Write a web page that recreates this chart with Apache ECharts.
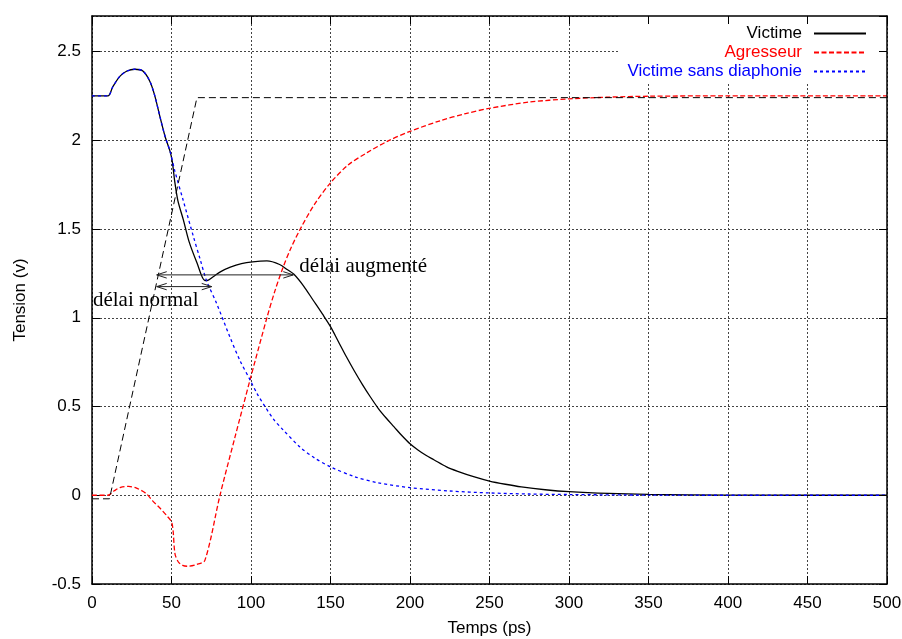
<!DOCTYPE html>
<html>
<head>
<meta charset="utf-8">
<script src="https://cdn.jsdelivr.net/npm/echarts@6/dist/echarts.min.js"></script>
<style>html,body{margin:0;padding:0;background:#fff;}#chart{width:902px;height:639px;}</style>
</head>
<body>
<div id="chart"></div>
<script>
// ---- Data (time in ps, voltage in V) ----
const victime = [[0,2.25],[10,2.25],[13,2.30],[17.5,2.36],[22,2.39],[27,2.40],[32,2.39],[36.5,2.33],[39.5,2.25],[42.8,2.13],[46,2.02],[49,1.94],[50.5,1.88],[52,1.77],[54,1.66],[57.5,1.55],[61,1.43],[66,1.31],[71,1.21],[72.5,1.21],[76,1.23],[81,1.26],[87,1.285],[94,1.305],[101,1.315],[110,1.32],[118,1.30],[123,1.27],[127,1.245],[133,1.18],[139,1.10],[145,1.02],[150,0.95],[155,0.865],[160,0.78],[165,0.70],[170,0.625],[175,0.555],[180,0.49],[185,0.435],[190,0.385],[195,0.335],[200,0.29],[205,0.255],[210,0.225],[215,0.20],[223,0.16],[230,0.135],[240,0.105],[250,0.08],[260,0.062],[270,0.047],[285,0.031],[300,0.02],[325,0.01],[350,0.005],[400,0.001],[450,0],[500,0]];
const agresseur = [[0,0],[10,0],[14,0.025],[18,0.045],[23,0.05],[28,0.04],[34,0.01],[38,-0.03],[43,-0.075],[47,-0.115],[50,-0.15],[51,-0.2],[52.2,-0.33],[54.3,-0.376],[57,-0.395],[60,-0.40],[65.8,-0.39],[71,-0.367],[80.5,0],[90,0.33],[99.4,0.65],[110,1.0],[115,1.15],[120,1.28],[125,1.39],[131,1.50],[140,1.64],[150,1.76],[161,1.86],[173,1.93],[186,1.995],[200,2.05],[219,2.11],[235,2.15],[250,2.18],[275,2.215],[300,2.233],[325,2.243],[350,2.248],[400,2.25],[500,2.25]];
const victimeSansDiaphonie = [[0,2.25],[10,2.25],[13,2.30],[17.5,2.36],[22,2.39],[27,2.40],[32,2.39],[36.5,2.33],[39.5,2.25],[42.8,2.13],[46,2.02],[49,1.94],[52,1.83],[57.4,1.66],[63.7,1.46],[68,1.33],[72,1.21],[78.4,1.08],[86.8,0.89],[93,0.76],[99.4,0.65],[104,0.57],[108.8,0.50],[114,0.43],[120,0.37],[131,0.27],[140,0.21],[150,0.16],[165,0.105],[180,0.07],[200,0.043],[225,0.024],[250,0.013],[275,0.007],[300,0.004],[350,0.001],[400,0],[500,0]];
const entree = [[0,-0.02],[11,-0.02],[66,2.24],[500,2.24]];

// annotation arrows (data coordinates of both tips) and labels
const arrowNormal = [40.7,1.1755,75.3,1.1755];
const arrowAugmente = [40.7,1.2415,126.6,1.2415];
const labelNormal = {text:'délai normal', at:[0.6,1.1]};
const labelAugmente = {text:'délai augmenté', at:[130.4,1.29]};

const seriesNames = ['Victime','Agresseur','Victime sans diaphonie'];
const xTicks = {min:0, max:500, interval:50};
const yTicks = {min:-0.5, max:2.7, interval:0.5};

const SANS = 'Liberation Sans, Arial, Helvetica, sans-serif';
const SERIF = 'Liberation Serif, Times New Roman, serif';

const chart = echarts.init(document.getElementById('chart'), null, {renderer:'canvas'});

const frameLine = {show:true, onZero:false, lineStyle:{color:'#000', width:1.5}};
const gridSplit = {show:true, lineStyle:{color:'#444', width:1, type:[2,2]}};
const tickStyle = {show:true, inside:true, length:8, lineStyle:{color:'#000', width:1}};

function renderArrow(params, api) {
  const p1 = api.coord([api.value(0), api.value(1)]);
  const p2 = api.coord([api.value(2), api.value(3)]);
  const L = 10, W = 3.2;
  const st = {stroke:'#222', fill:null, lineWidth:1};
  return {type:'group', children:[
    {type:'line', shape:{x1:p1[0], y1:p1[1], x2:p2[0], y2:p2[1]}, style:st},
    {type:'polyline', shape:{points:[[p1[0]+L,p1[1]-W],[p1[0],p1[1]],[p1[0]+L,p1[1]+W]]}, style:st},
    {type:'polyline', shape:{points:[[p2[0]-L,p2[1]-W],[p2[0],p2[1]],[p2[0]-L,p2[1]+W]]}, style:st}
  ]};
}

const option = {
  animation:false,
  backgroundColor:'#fff',
  grid:{left:92, right:15, top:16, bottom:55, containLabel:false, outerBoundsMode:'none'},
  legend:{
    orient:'vertical', align:'right', right:15, top:16,
    padding:[8,20,2,8], backgroundColor:'#fff',
    itemWidth:52, itemHeight:10, itemGap:0, selectedMode:false,
    itemStyle:{opacity:0},
    textStyle:{fontSize:17, fontFamily:SANS, lineHeight:19, padding:[0,7,0,0]},
    data:[
      {name:seriesNames[0], textStyle:{color:'#000'}},
      {name:seriesNames[1], textStyle:{color:'#ff0000'}},
      {name:seriesNames[2], textStyle:{color:'#0000ff'}}
    ]
  },
  xAxis:[
    {type:'value', position:'bottom', min:xTicks.min, max:xTicks.max, interval:xTicks.interval,
     name:'Temps (ps)', nameLocation:'middle', nameGap:36,
     nameTextStyle:{fontSize:17, fontFamily:SANS, color:'#000'},
     axisLine:frameLine, axisTick:tickStyle,
     axisLabel:{fontSize:17, fontFamily:SANS, color:'#000', margin:11},
     splitLine:gridSplit},
    {type:'value', position:'top', min:xTicks.min, max:xTicks.max, interval:xTicks.interval, z:10,
     axisLine:frameLine, axisTick:tickStyle, axisLabel:{show:false}, splitLine:{show:false}}
  ],
  yAxis:[
    {type:'value', position:'left', min:yTicks.min, max:yTicks.max, interval:yTicks.interval,
     name:'Tension (v)', nameLocation:'middle', nameGap:63, nameRotate:90,
     nameTextStyle:{fontSize:17, fontFamily:SANS, color:'#000'},
     axisLine:frameLine, axisTick:tickStyle,
     axisLabel:{fontSize:17, fontFamily:SANS, color:'#000', margin:11, showMaxLabel:false,
       formatter:function(v){ return (Math.abs(v/0.5 - Math.round(v/0.5))<1e-6) ? String(+v.toFixed(2)) : ''; }},
     splitLine:gridSplit},
    {type:'value', position:'right', min:yTicks.min, max:yTicks.max, interval:yTicks.interval, z:10,
     axisLine:frameLine, axisTick:tickStyle, axisLabel:{show:false}, splitLine:{show:false}}
  ],
  series:[
    {name:seriesNames[0], type:'line', data:victime,
     showSymbol:false, symbol:'none', smooth:0.3,
     lineStyle:{color:'#000', width:1.3, type:'solid'}, itemStyle:{color:'#000'}, z:2},
    {name:seriesNames[1], type:'line', data:agresseur,
     showSymbol:false, symbol:'none', smooth:0.3,
     lineStyle:{color:'#ff0000', width:1.3, type:[5,2.5]}, itemStyle:{color:'#ff0000'}, z:3},
    {name:seriesNames[2], type:'line', data:victimeSansDiaphonie,
     showSymbol:false, symbol:'none', smooth:0.3,
     lineStyle:{color:'#0000ff', width:1.3, type:[3,3]}, itemStyle:{color:'#0000ff'}, z:4},
    {name:'entree', type:'line', data:entree,
     showSymbol:false, symbol:'none',
     lineStyle:{color:'#000', width:1, type:[7,4]}, itemStyle:{color:'#000'}, z:5,
     markPoint:{
       silent:true, animation:false, symbol:'circle', symbolSize:0,
       label:{show:true, position:[0,0], align:'left', verticalAlign:'middle',
              fontSize:21, fontFamily:SERIF, color:'#000'},
       data:[
         {coord:labelNormal.at, value:labelNormal.text, label:{formatter:labelNormal.text}},
         {coord:labelAugmente.at, value:labelAugmente.text, label:{formatter:labelAugmente.text}}
       ]
     }},
    {name:'fleches', type:'custom', renderItem:renderArrow, silent:true, z:6,
     encode:{x:[0,2], y:[1,3]},
     data:[arrowNormal, arrowAugmente]}
  ]
};
chart.setOption(option);
</script>
</body>
</html>
